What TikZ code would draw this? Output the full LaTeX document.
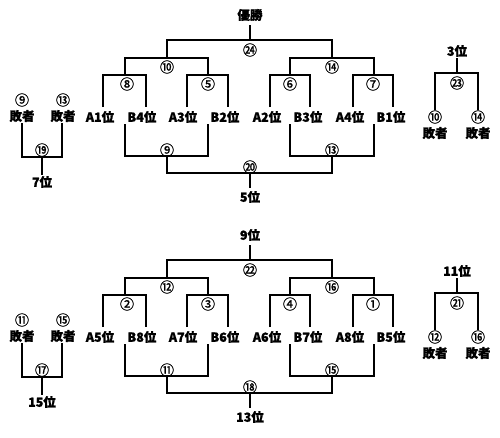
\documentclass[tikz,border=0pt]{standalone}
\usepackage{fontspec}
\setmainfont{Noto Sans CJK JP}[FakeBold=1.2]
\usepackage{tikz}

\tikzset{
  brk/.style={line width=2.3pt},
  lbl/.style={font=\bfseries\fontsize{12.5}{12.5}\selectfont, inner sep=0pt},
  num/.style={font=\fontsize{14}{14}\selectfont, inner sep=0pt}
}

\begin{document}
\begin{tikzpicture}[x=1pt,y=-1pt]
\useasboundingbox (0,0) rectangle (500,437);

% bracket lines, the same in both halves
\foreach \dy in {0,220}{
  \begin{scope}[yshift=-\dy pt]
    \coordinate (top) at (250,25); \coordinate (j0) at (250,40);
    \coordinate (jL) at (167,58); \coordinate (jR) at (332,58);
    \coordinate (j1) at (125,75); \coordinate (j2) at (208,75);
    \coordinate (j3) at (290,75); \coordinate (j4) at (374,75);
    \foreach \x [count=\i] in {103,146,187,228,270,310,353,393}
      \coordinate (p\i) at (\x,107);
    \coordinate (q1) at (125,124); \coordinate (q2) at (208,124);
    \coordinate (q3) at (290,124); \coordinate (q4) at (374,124);
    \coordinate (kL) at (167,156); \coordinate (kR) at (332,156);
    \coordinate (k0) at (250,173); \coordinate (bot) at (250,188);
    \draw[brk] (top) -- (j0);
    \draw[brk] (jL) |- (j0) -| (jR);
    \draw[brk] (j1) |- (jL) -| (j2);
    \draw[brk] (j3) |- (jR) -| (j4);
    \draw[brk] (p1) |- (j1) -| (p2);
    \draw[brk] (p3) |- (j2) -| (p4);
    \draw[brk] (p5) |- (j3) -| (p6);
    \draw[brk] (p7) |- (j4) -| (p8);
    \draw[brk] (q1) |- (kL) -| (q2);
    \draw[brk] (q3) |- (kR) -| (q4);
    \draw[brk] (kL) |- (k0) -| (kR);
    \draw[brk] (k0) -- (bot);
    % losers on the left
    \coordinate (s1) at (22,123); \coordinate (s2) at (62,123);
    \coordinate (s0) at (42,157); \coordinate (s3) at (42,175);
    \draw[brk] (s1) |- (s0) -| (s2);
    \draw[brk] (s0) -- (s3);
    % losers on the right
    \coordinate (r0) at (457,58); \coordinate (r1) at (457,73);
    \coordinate (r2) at (435,110); \coordinate (r3) at (478,110);
    \draw[brk] (r0) -- (r1);
    \draw[brk] (r2) |- (r1) -| (r3);
  \end{scope}
}

% upper half
\node[lbl] (champ) at (250,15) {優勝}; \node[lbl] (fifth) at (250,197) {5位};
\foreach \x/\t [count=\i] in {100/A1位,142/B4位,183/A3位,225/B2位,267/A2位,308/B3位,350/A4位,391/B1位}
  \node[lbl] (ua\i) at (\x,117) {\t};
\node[num] (n24) at (250,50) {㉔};
\node[num] (n10) at (167,67) {⑩}; \node[num] (n14) at (332,67) {⑭};
\node[num] (n8) at (127,84) {⑧}; \node[num] (n5) at (208,84) {⑤};
\node[num] (n6) at (290,84) {⑥}; \node[num] (n7) at (373,84) {⑦};
\node[num] (n9) at (167,150) {⑨}; \node[num] (n13) at (332,150) {⑬};
\node[num] (n20) at (250,167) {⑳};
\node[num] (m9) at (22,100) {⑨}; \node[num] (m13) at (63,100) {⑬};
\node[lbl] (lose1) at (22,116) {敗者}; \node[lbl] (lose2) at (63,116) {敗者};
\node[num] (n19) at (42,150) {⑲}; \node[lbl] (seventh) at (42,182) {7位};
\node[lbl] (third) at (457,51) {3位}; \node[num] (n23) at (457,83) {㉓};
\node[num] (m10) at (435,117) {⑩}; \node[num] (m14) at (478,117) {⑭};
\node[lbl] (lose3) at (435,133) {敗者}; \node[lbl] (lose4) at (478,133) {敗者};

% lower half
\node[lbl] (ninth) at (250,235) {9位}; \node[lbl] (thirteenth) at (250,417) {13位};
\foreach \x/\t [count=\i] in {100/A5位,142/B8位,183/A7位,225/B6位,267/A6位,308/B7位,350/A8位,391/B5位}
  \node[lbl] (la\i) at (\x,337) {\t};
\node[num] (n22) at (250,270) {㉒};
\node[num] (n12) at (167,287) {⑫}; \node[num] (n16) at (332,287) {⑯};
\node[num] (n2) at (127,304) {②}; \node[num] (n3) at (208,304) {③};
\node[num] (n4) at (290,304) {④}; \node[num] (n1) at (373,304) {①};
\node[num] (n11) at (167,370) {⑪}; \node[num] (n15) at (332,370) {⑮};
\node[num] (n18) at (250,387) {⑱};
\node[num] (m11) at (22,320) {⑪}; \node[num] (m15) at (63,320) {⑮};
\node[lbl] (lose5) at (22,336) {敗者}; \node[lbl] (lose6) at (63,336) {敗者};
\node[num] (n17) at (42,370) {⑰}; \node[lbl] (fifteenth) at (42,402) {15位};
\node[lbl] (eleventh) at (457,271) {11位}; \node[num] (n21) at (457,303) {㉑};
\node[num] (m12) at (435,337) {⑫}; \node[num] (m16) at (478,337) {⑯};
\node[lbl] (lose7) at (435,353) {敗者}; \node[lbl] (lose8) at (478,353) {敗者};
\end{tikzpicture}
\end{document}
